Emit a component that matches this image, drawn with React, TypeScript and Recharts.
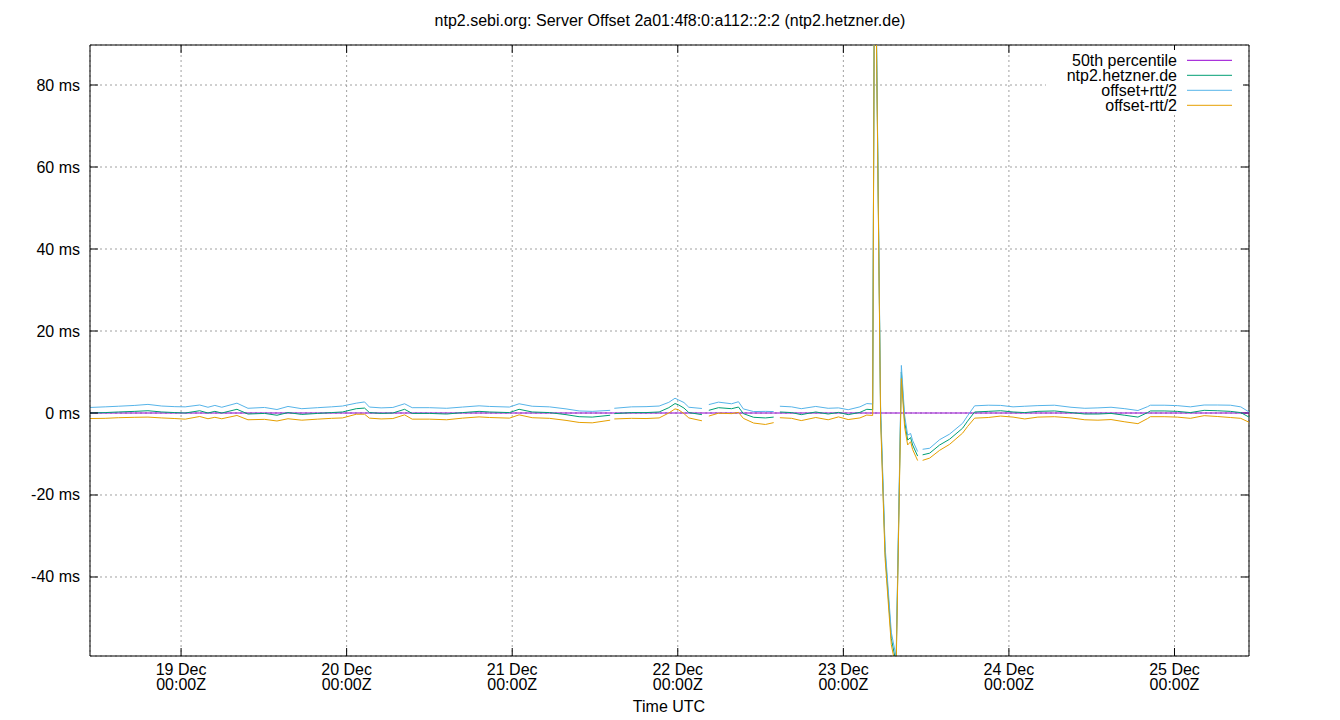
import { LineChart, Line, XAxis, YAxis, CartesianGrid, ReferenceLine } from 'recharts';

// hours since 19 Dec 00:00Z
const HOURS = [
  -13.2, -11.0, -9.1, -6.7, -4.8, -2.8, -0.9, 0.6, 2.7, 3.9,
  4.9, 5.9, 8.1, 9.7, 12.1, 13.9, 15.5, 17.5, 19.8, 21.8,
  23.4, 25.4, 26.6, 27.3, 29.0, 30.7, 32.4, 33.5, 36.0, 38.5,
  40.8, 43.2, 44.7, 47.6, 49.0, 50.9, 53.4, 55.8, 57.7, 59.6,
  62.2, 62.45, 62.8, 65.3, 67.4, 69.3, 70.7, 71.6, 72.1, 72.9,
  73.6, 75.5, 76.0, 76.5, 77.9, 79.8, 80.8, 81.5, 83.0, 84.7,
  85.9, 86.3, 86.8, 88.5, 89.9, 92.0, 93.8, 95.3, 96.7, 98.4,
  99.4, 100.25, 100.55, 101.4, 102.05, 102.95, 103.65, 104.41, 104.88, 105.32,
  105.75, 106.04, 106.77, 107.06, 107.49, 108.51, 109.96, 111.4, 113.29, 114.0,
  115.03, 117.0, 118.8, 120.6, 122.3, 124.2, 126.6, 129.0, 131.0, 132.9,
  134.8, 136.8, 138.7, 140.1, 140.5, 142.5, 144.4, 146.3, 148.3, 150.2,
  152.1, 153.6, 154.8,
];

// measured offset, ms (null = no sample)
const OFFSET = [
  0.0, 0.1, 0.25, 0.4, 0.55, 0.25, 0.1, 0.0, 0.55, 0.0,
  0.4, 0.0, 0.9, -0.25, -0.1, -0.55, 0.1, -0.35, -0.1, 0.1,
  0.25, 1.05, 1.2, 0.1, -0.1, 0.0, 0.9, -0.1, -0.1, -0.25,
  0.1, 0.4, 0.25, 0.1, 0.9, 0.25, 0.1, -0.4, -0.9, -1.0,
  -0.55, null, -0.15, 0.1, 0.1, 0.25, 1.3, 2.3, 2.0, 1.2,
  0.1, -0.4, null, 0.65, 1.3, 1.05, 1.45, -0.15, -1.05, -1.2,
  -1.0, null, 0.25, 0.1, -0.4, 0.25, -0.25, 0.15, -0.4, 0.15,
  0.9, 0.8, 130, 0.0, -34, -55, -61, 10, -2, -6.6,
  -6.0, -7.8, -10.5, null, -10.2, -9.8, -7.8, -6.4, -3.7, -2.0,
  0.25, 0.4, 0.55, 0.25, 0.1, 0.4, 0.5, 0.1, -0.25, -0.25,
  -0.1, -0.55, -1.0, 0.1, 0.5, 0.5, 0.4, 0.1, 0.65, 0.55,
  0.4, 0.1, -1.0,
];

// half round-trip time, ms
const HALF_RTT = [
  1.35, 1.4, 1.4, 1.45, 1.55, 1.45, 1.45, 1.5, 1.4, 1.4,
  1.45, 1.4, 1.5, 1.4, 1.45, 1.4, 1.5, 1.4, 1.4, 1.4,
  1.45, 1.35, 1.5, 1.35, 1.35, 1.35, 1.35, 1.4, 1.4, 1.4,
  1.35, 1.35, 1.35, 1.35, 1.35, 1.4, 1.4, 1.4, 1.4, 1.4,
  1.2, null, 1.3, 1.4, 1.45, 1.45, 1.3, 1.3, 1.2, 1.35,
  1.3, 1.5, null, 1.4, 1.35, 1.2, 1.3, 1.15, 1.4, 1.6,
  1.35, null, 1.4, 1.4, 1.45, 1.35, 1.4, 1.1, 1.2, 1.35,
  1.4, 1.4, 1.5, 1.5, 1.5, 1.5, 1.5, 1.6, 1.4, 1.2,
  1.0, 1.1, 1.1, null, 1.35, 1.2, 1.3, 1.25, 1.2, 1.3,
  1.5, 1.5, 1.3, 1.25, 1.55, 1.4, 1.4, 1.3, 1.4, 1.5,
  1.5, 1.6, 1.6, 1.45, 1.4, 1.4, 1.4, 1.4, 1.3, 1.4,
  1.5, 1.4, 1.25,
];

// 50th percentile of the offset, ms
const MEDIAN = 0;

const DAY_TICKS = [0, 24, 48, 72, 96, 120, 144];
const DAY_LABELS = ['19 Dec', '20 Dec', '21 Dec', '22 Dec', '23 Dec', '24 Dec', '25 Dec'];
const MS_TICKS = [-40, -20, 0, 20, 40, 60, 80];

const SERIES_NAMES = ['50th percentile', 'ntp2.hetzner.de', 'offset+rtt/2', 'offset-rtt/2'];
const COLORS = ['#9400d3', '#009e73', '#56b4e9', '#e69f00'];

const X_DOMAIN = [-13.2, 154.8];
const Y_DOMAIN = [-59.27, 89.76];
// inward mirror tick lengths (~8px) in data units
const TICK_LEN_H = 1.16;
const TICK_LEN_MS = 1.95;

const FONT = '"Liberation Sans", Arial, Helvetica, sans-serif';

const rows = HOURS.map((t, i) => {
  const o = OFFSET[i];
  const h = HALF_RTT[i];
  return {
    t,
    p50: MEDIAN,
    offset: o,
    upper: o == null || h == null ? null : o + h,
    lower: o == null || h == null ? null : o - h,
  };
});

const LeftTick = (props: any) => {
  const { x, y, payload } = props;
  return (
    <g>
      <line x1={x + 10} x2={x + 18} y1={y} y2={y} stroke="#000" />
      <text x={x} y={y + 5.5} textAnchor="end" fontSize={16} fontFamily={FONT} fill="#000">
        {`${payload.value} ms`}
      </text>
    </g>
  );
};

const BottomTick = (props: any) => {
  const { x, y, payload } = props;
  const idx = DAY_TICKS.indexOf(payload.value);
  return (
    <g>
      <line x1={x} x2={x} y1={y} y2={y - 8} stroke="#000" />
      <text x={x} y={y + 19} textAnchor="middle" fontSize={16} fontFamily={FONT} fill="#000">
        {DAY_LABELS[idx]}
      </text>
      <text x={x} y={y + 34} textAnchor="middle" fontSize={16} fontFamily={FONT} fill="#000">
        00:00Z
      </text>
    </g>
  );
};

export default function App() {
  return (
    <div style={{ position: 'absolute', left: 0, top: 0, width: 1340, height: 720, background: '#fff' }}>
      <LineChart width={1340} height={720} data={rows} margin={{ top: 45, right: 91, bottom: 0, left: 0 }}>
        <CartesianGrid stroke="#a0a0a0" strokeDasharray="2 3" />
        <XAxis
          dataKey="t"
          type="number"
          domain={X_DOMAIN}
          ticks={DAY_TICKS}
          interval={0}
          allowDataOverflow
          height={64}
          tickSize={0}
          tickMargin={0}
          tickLine={false}
          axisLine={{ stroke: '#000' }}
          tick={BottomTick}
        />
        <YAxis
          type="number"
          domain={Y_DOMAIN}
          ticks={MS_TICKS}
          interval={0}
          allowDataOverflow
          width={90}
          tickSize={0}
          tickMargin={10}
          tickLine={false}
          axisLine={{ stroke: '#000' }}
          tick={LeftTick}
        />
        {/* top and right frame edges with their inward mirror ticks */}
        <ReferenceLine x={X_DOMAIN[1]} stroke="#000" strokeWidth={1} ifOverflow="visible" />
        <ReferenceLine y={Y_DOMAIN[1]} stroke="#000" strokeWidth={1} ifOverflow="visible" />
        {MS_TICKS.map((v) => (
          <ReferenceLine
            key={`r${v}`}
            stroke="#000"
            strokeWidth={1}
            ifOverflow="visible"
            segment={[
              { x: X_DOMAIN[1] - TICK_LEN_H, y: v },
              { x: X_DOMAIN[1], y: v },
            ]}
          />
        ))}
        {DAY_TICKS.map((t) => (
          <ReferenceLine
            key={`t${t}`}
            stroke="#000"
            strokeWidth={1}
            ifOverflow="visible"
            segment={[
              { x: t, y: Y_DOMAIN[1] },
              { x: t, y: Y_DOMAIN[1] - TICK_LEN_MS },
            ]}
          />
        ))}
        <Line type="linear" dataKey="p50" stroke={COLORS[0]} strokeWidth={1} dot={false} isAnimationActive={false} />
        <Line type="linear" dataKey="offset" stroke={COLORS[1]} strokeWidth={1} dot={false} isAnimationActive={false} />
        <Line type="linear" dataKey="upper" stroke={COLORS[2]} strokeWidth={1} dot={false} isAnimationActive={false} />
        <Line type="linear" dataKey="lower" stroke={COLORS[3]} strokeWidth={1} dot={false} isAnimationActive={false} />
      </LineChart>

      <svg
        width={1340}
        height={720}
        style={{ position: 'absolute', left: 0, top: 0, pointerEvents: 'none' }}
        fontFamily={FONT}
        fontSize={16}
      >
        <text x={670} y={26} textAnchor="middle" fill="#000">
          ntp2.sebi.org: Server Offset 2a01:4f8:0:a112::2:2 (ntp2.hetzner.de)
        </text>
        <text x={669} y={712} textAnchor="middle" fill="#000">
          Time UTC
        </text>
        <rect x={1046} y={50} width={197} height={64} fill="#fff" />
        {SERIES_NAMES.map((name, i) => (
          <g key={name}>
            <text x={1177} y={60.3 + i * 15 + 5.5} textAnchor="end" fill="#000">
              {name}
            </text>
            <line x1={1187} x2={1232} y1={60.3 + i * 15} y2={60.3 + i * 15} stroke={COLORS[i]} />
          </g>
        ))}
      </svg>
    </div>
  );
}
